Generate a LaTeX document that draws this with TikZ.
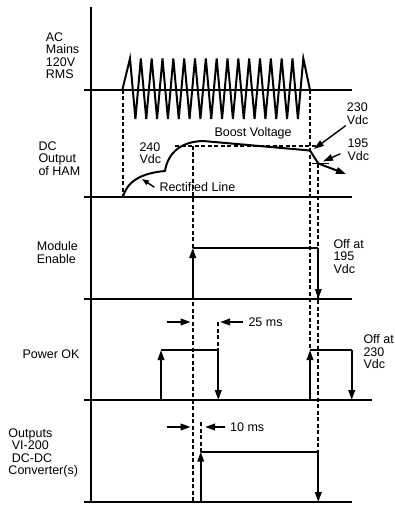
\documentclass[tikz,border=0pt]{standalone}
\usepackage{fontspec}
\setmainfont{Liberation Sans}
\usetikzlibrary{arrows.meta}
\begin{document}
\begin{tikzpicture}[x=1pt,y=-1pt,
  lbl/.style={inner sep=0pt, anchor=north west, align=left, font=\fontsize{12.5}{12.5}\selectfont},
  lbw/.style={inner sep=0pt, anchor=west, font=\fontsize{12.5}{12.5}\selectfont},
  axisline/.style={line width=2.3pt},
  wave/.style={line width=2pt},
  dsh/.style={line width=1.7pt, dash pattern=on 4pt off 2.5pt},
  sig/.style={line width=2pt},
  tip/.style={-{Triangle[length=10pt,width=6.5pt]}},
  stip/.style={-{Triangle[length=7pt,width=5pt]}},
  thin/.style={line width=1.4pt},
]
\useasboundingbox (0,0) rectangle (394,505);

% axis and baselines
\draw[axisline] (91,7) coordinate (axtop) -- (91,503) coordinate (axbot);
\draw[axisline] (84,90) coordinate (acL) -- (352,90) coordinate (acR);
\draw[axisline] (84,197) coordinate (dcL) -- (352,197) coordinate (dcR);
\draw[axisline] (84,299) coordinate (meL) -- (352,299) coordinate (meR);
\draw[axisline] (84,400) coordinate (pkL) -- (372,400) coordinate (pkR);
\draw[axisline] (84,502) coordinate (ouL) -- (352,502) coordinate (ouR);

% dashed guides
\draw[dsh] (123,90) -- (123,197);
\draw[dsh,line width=1.4pt] (175,146) -- (320,146);
\draw[dsh] (192.7,146) -- (192.7,503);
\draw[dsh] (310,90) -- (310,350);
\draw[dsh] (318.3,163.5) -- (318.3,451.7);
\draw[dsh] (218.3,322) -- (218.3,350);
\draw[dsh] (200.7,422) -- (200.7,451.7);

% AC waveform
\draw[wave] (122.3,90) -- (130,58.5)
  \foreach \k in {0,...,15} { -- ({135.42+10.833*\k},119) -- ({140.83+10.833*\k},58.5) }
  -- (310,90);

% DC output curve
\draw[sig] (123,197) .. controls (127,181) and (142,173) .. (165,171)
  .. controls (168,152) and (182,141.5) .. (203,141) -- (310,150.5) -- (318.3,163.5);
\draw[sig,tip] (318.3,163.5) -- (346,174);
\draw[thin] (311.7,163.5) -- (329.3,163.5);

% Module enable
\draw[sig,tip] (192.7,299) -- (192.7,248);
\draw[sig] (192.7,248) -- (318.3,248);
\draw[sig,tip] (318.3,248) -- (318.3,299);

% Power OK
\draw[sig,tip] (161,400) -- (161,350);
\draw[sig] (161,350) -- (218.3,350);
\draw[sig,tip] (218.3,350) -- (218.3,400);
\draw[sig,tip] (310,400) -- (310,350);
\draw[sig] (310,350) -- (351.7,350);
\draw[sig,tip] (351.7,350) -- (351.7,400);

% Outputs
\draw[sig,tip] (200.7,502) -- (200.7,451.7);
\draw[sig] (200.7,451.7) -- (318.3,451.7);
\draw[sig,tip] (318.3,451.7) -- (318.3,502);

% timing arrows
\draw[sig,tip] (166.7,322) -- (190.7,322);
\draw[sig,tip] (243.3,322) -- (220,322);
\draw[sig,tip] (166.7,427) -- (190.7,427);
\draw[sig,tip] (225,427) -- (205,427);

% labels
\node[lbl] (ac) at (45.7,32.3) {AC\\Mains\\120V\\RMS};
\node[lbl] (dc) at (38.3,141.2) {DC\\Output\\of HAM};
\node[lbl] (me) at (36.7,241.3) {Module\\Enable};
\node[lbw] (pok) at (22.3,354) {Power OK};
\node[lbl] (out) at (8.3,428.5) {Outputs\\\hspace{3.4pt}VI-200\\\hspace{3.4pt}DC-DC\\Converter(s)};
\node[lbl] (v240) at (139.3,142.3) {240\\Vdc};
\node[lbw] (boost) at (214.3,133.7) {Boost Voltage};
\node[lbw] (rect) at (159.3,186.7) {Rectified Line};
\node[lbl] (v230) at (346.7,102.9) {230\\Vdc};
\node[lbl] (v195) at (347.3,138.9) {195\\Vdc};
\node[lbl] (off195) at (333.3,238.9) {Off at\\195\\Vdc};
\node[lbl] (off230) at (363.3,334.6) {Off at\\230\\Vdc};
\node[lbw] (ms25) at (248.3,322.3) {25 ms};
\node[lbw] (ms10) at (230,427.3) {10 ms};

% label pointers
\draw[thin,stip] (rect.west) ++(-5,0.5) coordinate (rp) (rp) -- (142,179);
\draw[thin,tip] (v230.south west) ++(-1,1) coordinate (p230) (p230) -- (314,149);
\draw[thin,tip] (v195.west) ++(-7,4) coordinate (p195) (p195) -- (323,161.5);
\end{tikzpicture}
\end{document}
